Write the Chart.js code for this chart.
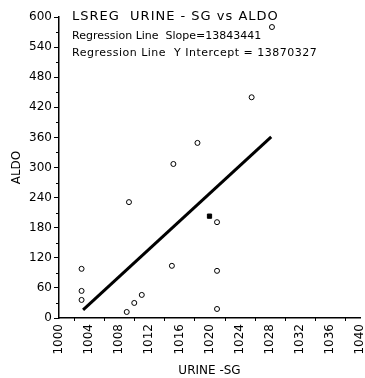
<!DOCTYPE html>
<html>
<head>
<meta charset="utf-8">
<script src="https://cdn.jsdelivr.net/npm/chart.js@4/dist/chart.umd.min.js"></script>
<style>
  body { margin: 0; background: #fff; }
  canvas { display: block; }
</style>
</head>
<body>
<canvas id="myChart" width="365" height="378"></canvas>
<script>
// values
const urineSg = [1003, 1003, 1003, 1009.3, 1009, 1010, 1011, 1015, 1015.2, 1018.4, 1021, 1021, 1021, 1025.6, 1028.3];
const aldo = [98, 54, 36, 231, 12, 30, 46, 104, 307, 349, 191, 94, 18, 440, 580];
const squarePoint = [{ x: 1020, y: 203 }];
const lineEnds = [{ x: 1003.2, y: 16 }, { x: 1028.2, y: 361 }];
const xTicks = [1000, 1004, 1008, 1012, 1016, 1020, 1024, 1028, 1032, 1036, 1040];
const yTicks = [0, 60, 120, 180, 240, 300, 360, 420, 480, 540, 600];
const titleLines = [
    "LSREG  URINE - SG vs ALDO",
    "Regression Line  Slope=13843441",
    "Regression Line  Y Intercept = 13870327"
];

const FONT = "'DejaVu Sans', sans-serif";
const chart = document.getElementById('myChart');

const points = urineSg.map((x, i) => ({ x: x, y: aldo[i] }));

// minor ticks + title text
const extras = {
    id: 'extras',
    afterDraw(c) {
        const ctx = c.ctx;
        const xs = c.scales.x, ys = c.scales.y;
        ctx.save();
        ctx.strokeStyle = '#000';
        ctx.lineWidth = 1;
        ctx.beginPath();
        for (let v = 30; v < 600; v += 60) {
            const py = Math.round(ys.getPixelForValue(v)) + 0.5;
            ctx.moveTo(xs.left - 3, py);
            ctx.lineTo(xs.left, py);
        }
        for (let v = 1002; v < 1040; v += 4) {
            const px = Math.round(xs.getPixelForValue(v)) + 0.5;
            ctx.moveTo(px, ys.bottom);
            ctx.lineTo(px, ys.bottom + 3);
        }
        ctx.stroke();

        ctx.fillStyle = '#000';
        ctx.textBaseline = 'alphabetic';
        ctx.font = '13px ' + FONT;
        ctx.letterSpacing = '1px';
        ctx.fillText(titleLines[0], 72, 20);
        ctx.font = '11px ' + FONT;
        ctx.letterSpacing = '0px';
        ctx.fillText(titleLines[1], 72, 39);
        ctx.letterSpacing = '0.5px';
        ctx.fillText(titleLines[2], 72, 56);
        ctx.restore();
    }
};

new Chart(chart, {
    type: 'scatter',
    data: {
        datasets: [
            {
                label: "fit",
                type: 'line',
                data: lineEnds,
                borderColor: '#000',
                borderWidth: 3,
                pointRadius: 0,
                fill: false,
            },
            {
                label: "points",
                data: points,
                pointStyle: 'circle',
                pointRadius: 2.5,
                borderColor: '#000',
                borderWidth: 1,
                backgroundColor: '#fff',
            },
            {
                label: "square",
                data: squarePoint,
                pointStyle: 'rect',
                pointRadius: 3,
                borderColor: '#000',
                backgroundColor: '#000',
            }
        ]
    },
    options: {
        responsive: false,
        animation: false,
        layout: { padding: { top: 17, right: 4, left: 10, bottom: 0 } },
        plugins: {
            legend: { display: false },
            tooltip: { enabled: false },
        },
        scales: {
            x: {
                type: 'linear',
                min: 1000,
                max: 1040,
                afterBuildTicks: (s) => { s.ticks = xTicks.map(v => ({ value: v })); },
                afterFit: (s) => { s.height = 60; s.paddingRight = 0; s.paddingLeft = 0; },
                border: { color: '#000', width: 1.5 },
                grid: { display: false, drawOnChartArea: false, drawTicks: true, tickLength: 4, tickColor: '#000' },
                ticks: {
                    color: '#000',
                    font: { family: FONT, size: 12 },
                    minRotation: 90,
                    maxRotation: 90,
                    padding: 2,
                    callback: (v) => String(v),
                },
                title: {
                    display: true,
                    text: 'URINE -SG',
                    color: '#000',
                    font: { family: FONT, size: 12 },
                    padding: { top: 9, bottom: 0 },
                },
            },
            y: {
                min: 0,
                max: 600,
                afterBuildTicks: (s) => { s.ticks = yTicks.map(v => ({ value: v })); },
                afterFit: (s) => { s.width = 49; s.paddingTop = 0; s.paddingBottom = 0; },
                border: { color: '#000', width: 1.5 },
                grid: { display: true, drawOnChartArea: false, drawTicks: true, tickLength: 5, tickColor: '#000' },
                ticks: {
                    color: '#000',
                    font: { family: FONT, size: 12 },
                    padding: 2,
                },
                title: {
                    display: true,
                    text: 'ALDO',
                    color: '#000',
                    font: { family: FONT, size: 12 },
                    padding: { top: 0, bottom: 4 },
                },
            },
        },
    },
    plugins: [extras],
});
</script>
</body>
</html>
